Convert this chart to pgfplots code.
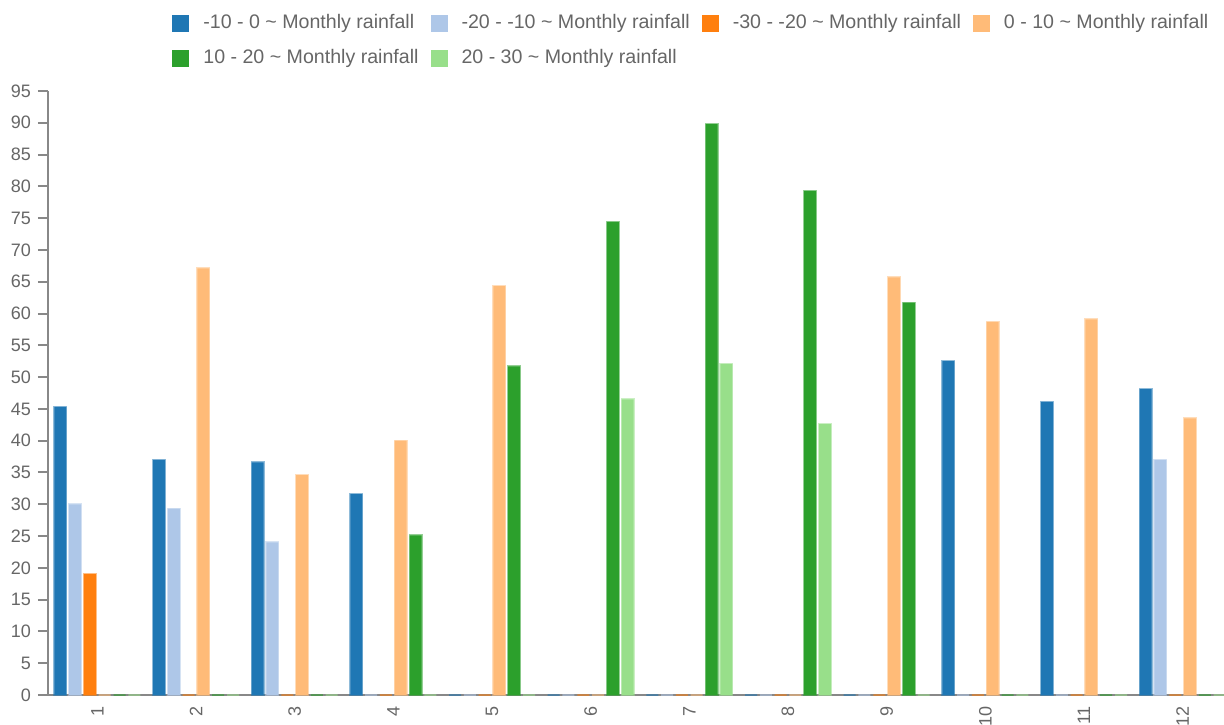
\documentclass[border=0pt]{standalone}
\usepackage{pgfplots}
\usepackage{pgfplotstable}
\pgfplotsset{compat=1.18}
\usepackage{fontspec}
\setmainfont{Liberation Sans}
\definecolor{c1}{HTML}{1F77B4}
\definecolor{c2}{HTML}{AEC7E8}
\definecolor{c3}{HTML}{FF7F0E}
\definecolor{c4}{HTML}{FFBB78}
\definecolor{c5}{HTML}{2CA02C}
\definecolor{c6}{HTML}{98DF8A}
\definecolor{labelgray}{HTML}{666666}
\definecolor{axisgray}{HTML}{888888}
\pgfplotstableread{
x a b c d e f
1 45.3 30.0 19.0 0 0 0
2 37.0 29.3 0 67.1 0 0
3 36.6 24.0 0 34.6 0 0
4 31.6 0 0 40.0 25.1 0
5 0 0 0 64.3 51.7 0
6 0 0 0 0 74.4 46.5
7 0 0 0 0 89.8 52.1
8 0 0 0 0 79.3 42.6
9 0 0 0 65.7 61.7 0
10 52.5 0 0 58.7 0 0
11 46.1 0 0 59.1 0 0
12 48.1 37.0 0 43.5 0 0
}\datatable
\pgfplotsset{
  sq legend/.style={legend image code/.code={\path[##1,draw=none] (0pt,-4.25pt) rectangle (8.5pt,4.25pt);}},
  barstyle/.style={fill=#1, draw=#1, draw opacity=0.5, line width=1pt, sq legend},
}
\begin{document}
\begin{tikzpicture}
\begin{axis}[
  scale only axis, width=592pt, height=302pt,
  xmin=0.5, xmax=12.5, ymin=0, ymax=95,
  ybar=1.4pt, bar width=6pt,
  axis x line*=bottom, axis y line*=left,
  axis line style={draw=axisgray, line width=1pt},
  ytick={0,5,...,95},
  xtick={1,...,12},
  tick align=outside,
  major tick length=5pt,
  ytick style={draw=axisgray, line width=1pt},
  xtick style={draw=none},
  xticklabel shift=-3pt,
  x tick label style={rotate=90, anchor=east, font=\fontsize{9}{10}\selectfont, text=labelgray},
  y tick label style={font=\fontsize{9}{10}\selectfont, text=labelgray},
  /pgf/number format/assume math mode=true,
  legend columns=4,
  legend style={at={(0.1047,1.1275)}, anchor=north west, draw=none, fill=none,
    inner sep=0pt, row sep=9pt,
    font=\fontsize{9.8}{12}\selectfont, text=labelgray,
    nodes={inner sep=0pt},
    /tikz/every odd column/.append style={column sep=7pt},
    /tikz/every even column/.append style={column sep=6pt}},
  legend cell align=left,
]
\addplot[barstyle=c1] table[x=x,y=a]{\datatable};
\addlegendentry{-10 - 0 \textasciitilde{} Monthly rainfall}
\addplot[barstyle=c2] table[x=x,y=b]{\datatable};
\addlegendentry{-20 - -10 \textasciitilde{} Monthly rainfall}
\addplot[barstyle=c3] table[x=x,y=c]{\datatable};
\addlegendentry{-30 - -20 \textasciitilde{} Monthly rainfall}
\addplot[barstyle=c4] table[x=x,y=d]{\datatable};
\addlegendentry{0 - 10 \textasciitilde{} Monthly rainfall}
\addplot[barstyle=c5] table[x=x,y=e]{\datatable};
\addlegendentry{10 - 20 \textasciitilde{} Monthly rainfall}
\addplot[barstyle=c6] table[x=x,y=f]{\datatable};
\addlegendentry{20 - 30 \textasciitilde{} Monthly rainfall}
\end{axis}
\pgfresetboundingbox
\path[use as bounding box] ([shift={(-24pt,-14.5pt)}]current axis.south west) rectangle ([shift={(588pt,347.5pt)}]current axis.south west);
\end{tikzpicture}
\end{document}
